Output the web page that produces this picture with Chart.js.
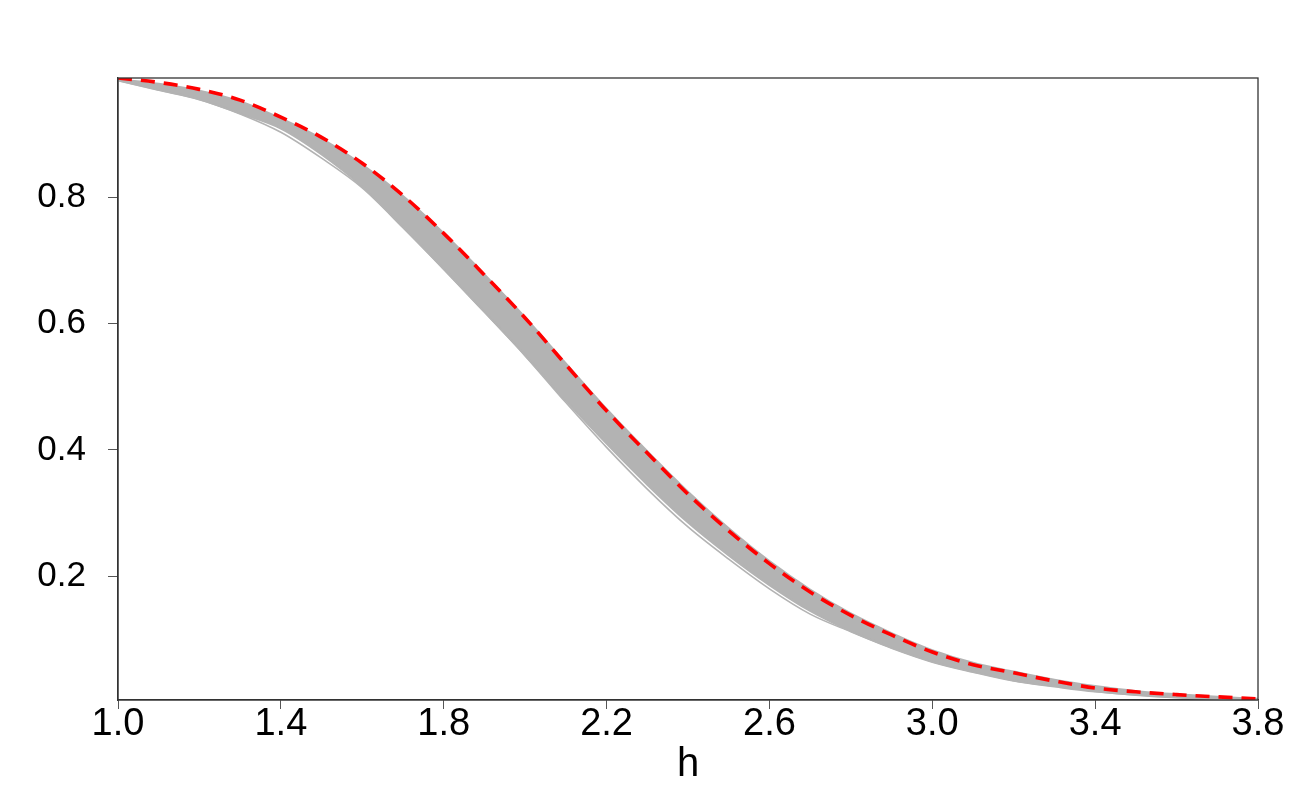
<!DOCTYPE html>
<html>
<head>
<meta charset="utf-8">
<script src="https://cdn.jsdelivr.net/npm/chart.js@4.4.1/dist/chart.umd.min.js"></script>
<style>
  html, body { margin: 0; padding: 0; background: #ffffff; }
  #wrap { width: 1300px; height: 800px; }
</style>
</head>
<body>
<div id="wrap"><canvas id="c" width="1300" height="800"></canvas></div>
<script>
// ---- data ----
const hValues = [1.0, 1.1, 1.2, 1.3, 1.4, 1.5, 1.6, 1.7, 1.8, 1.9, 2.0, 2.1, 2.2, 2.3, 2.4,
                 2.5, 2.6, 2.7, 2.8, 2.9, 3.0, 3.1, 3.2, 3.3, 3.4, 3.5, 3.6, 3.7, 3.8];

// red dashed reference curve
const redCurve = [0.989, 0.982, 0.971, 0.954, 0.927, 0.895, 0.854, 0.803, 0.743, 0.677, 0.609,
                  0.535, 0.462, 0.395, 0.330, 0.272, 0.220, 0.175, 0.138, 0.107, 0.080, 0.060,
                  0.047, 0.034, 0.023, 0.017, 0.0125, 0.009, 0.0055];

// upper edge of the grey band of simulated curves
const greyUpper = [0.987, 0.980, 0.969, 0.952, 0.925, 0.893, 0.852, 0.802, 0.743, 0.678, 0.610,
                   0.537, 0.465, 0.398, 0.334, 0.276, 0.224, 0.179, 0.141, 0.110, 0.083, 0.063,
                   0.049, 0.036, 0.026, 0.018, 0.013, 0.009, 0.006];

// lower edge of the solid grey band
const greyLower = [0.985, 0.970, 0.955, 0.933, 0.909, 0.868, 0.817, 0.753, 0.687, 0.619, 0.550,
                   0.478, 0.410, 0.345, 0.285, 0.233, 0.186, 0.145, 0.113, 0.087, 0.065, 0.049,
                   0.035, 0.026, 0.018, 0.012, 0.008, 0.006, 0.004];

// lowest single grey curve (separated from the band in places)
const greyLowest = [0.985, 0.970, 0.955, 0.932, 0.903, 0.862, 0.815, 0.752, 0.686, 0.618, 0.549,
                    0.475, 0.404, 0.338, 0.278, 0.227, 0.180, 0.140, 0.112, 0.086, 0.064, 0.048,
                    0.034, 0.025, 0.017, 0.012, 0.008, 0.006, 0.004];

const xTicks = [1.0, 1.4, 1.8, 2.2, 2.6, 3.0, 3.4, 3.8];
const yTicks = [0.2, 0.4, 0.6, 0.8];
const xLabel = 'h';

// ---- build chart ----
const toPts = (arr) => arr.map((v, i) => ({ x: hValues[i], y: v }));
const GREY = '#B3B3B3';
const FONT = "'Liberation Sans', Arial, Helvetica, sans-serif";

const boxPlugin = {
  id: 'plotBox',
  afterDatasetsDraw(chart) {
    const a = chart.chartArea, ctx = chart.ctx;
    ctx.save();
    ctx.strokeStyle = '#333333';
    ctx.lineWidth = 1.3;
    ctx.strokeRect(a.left, a.top, a.right - a.left, a.bottom - a.top);
    ctx.restore();
  }
};

new Chart(document.getElementById('c'), {
  type: 'line',
  data: {
    datasets: [
      { label: 'band upper', data: toPts(greyUpper), borderColor: GREY, backgroundColor: GREY,
        borderWidth: 2, fill: '+1', pointRadius: 0, cubicInterpolationMode: 'monotone', order: 3 },
      { label: 'band lower', data: toPts(greyLower), borderColor: GREY, backgroundColor: GREY,
        borderWidth: 2, fill: false, pointRadius: 0, cubicInterpolationMode: 'monotone', order: 2 },
      { label: 'lowest', data: toPts(greyLowest), borderColor: GREY,
        borderWidth: 1.6, fill: false, pointRadius: 0, cubicInterpolationMode: 'monotone', order: 1 },
      { label: 'reference', data: toPts(redCurve), borderColor: '#FF0000',
        borderWidth: 3.6, borderDash: [14, 9], fill: false, pointRadius: 0,
        cubicInterpolationMode: 'monotone', order: 0 }
    ]
  },
  options: {
    responsive: false,
    animation: false,
    events: [],
    layout: { padding: { top: 78, right: 42, left: 0, bottom: 0 } },
    plugins: { legend: { display: false }, tooltip: { enabled: false } },
    scales: {
      x: {
        type: 'linear', min: 1.0, max: 3.8,
        afterBuildTicks: (s) => { s.ticks = xTicks.map(v => ({ value: v })); },
        afterFit: (s) => { s.height = 100; },
        ticks: { color: '#000', font: { family: FONT, size: 38 }, padding: -7,
                 maxRotation: 0, autoSkip: false, callback: (v) => Number(v).toFixed(1) },
        grid: { drawOnChartArea: false, drawTicks: true, tickLength: 9, color: '#555555', lineWidth: 1 },
        border: { display: true, color: '#333333', width: 1.3 },
        title: { display: true, text: xLabel, color: '#000', font: { family: FONT, size: 40 },
                 padding: { top: 0, bottom: 11 } }
      },
      y: {
        type: 'linear', min: 0.004, max: 0.989,
        afterBuildTicks: (s) => { s.ticks = yTicks.map(v => ({ value: v })); },
        afterFit: (s) => { s.width = 118; },
        ticks: { color: '#000', font: { family: FONT, size: 35 }, padding: 22,
                 autoSkip: false, callback: (v) => Number(v).toFixed(1) },
        grid: { drawOnChartArea: false, drawTicks: true, tickLength: 10, color: '#555555', lineWidth: 1 },
        border: { display: true, color: '#333333', width: 1.3 }
      }
    }
  },
  plugins: [boxPlugin]
});
</script>
</body>
</html>
